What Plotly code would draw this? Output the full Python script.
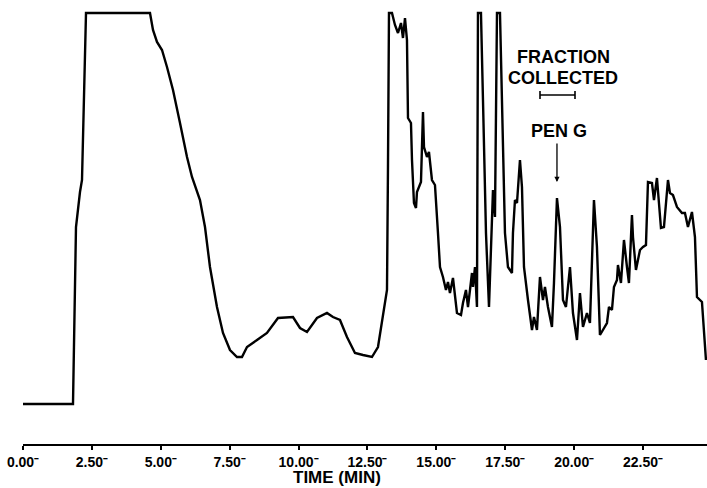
import plotly.graph_objects as go

# Chromatogram trace (time in minutes, detector response in arbitrary units)
time_min = [
    0.000, 1.814, 1.923, 2.032, 2.068, 2.141, 2.286, 4.608, 4.717, 4.862, 5.044, 5.225, 5.443,
    5.697, 5.951, 6.132, 6.422, 6.604, 6.785, 7.039, 7.257, 7.511, 7.765, 7.946, 8.128, 8.491,
    8.853, 9.253, 9.797, 10.051, 10.305, 10.668, 11.030, 11.248, 11.502, 11.756, 12.046, 12.337,
    12.663, 12.881, 13.062, 13.208, 13.244, 13.280, 13.389, 13.498, 13.607, 13.716, 13.788,
    13.861, 13.933, 13.970, 14.078, 14.115, 14.187, 14.260, 14.296, 14.441, 14.514, 14.550,
    14.659, 14.731, 14.840, 14.949, 15.058, 15.131, 15.239, 15.348, 15.421, 15.493, 15.602,
    15.675, 15.747, 15.893, 15.965, 16.074, 16.147, 16.292, 16.328, 16.401, 16.473, 16.509,
    16.618, 16.691, 16.800, 16.909, 17.017, 17.054, 17.126, 17.163, 17.199, 17.308, 17.381,
    17.489, 17.598, 17.743, 17.779, 17.852, 17.925, 18.033, 18.106, 18.179, 18.324, 18.469,
    18.541, 18.650, 18.759, 18.868, 18.940, 19.049, 19.194, 19.267, 19.376, 19.485, 19.594,
    19.702, 19.848, 19.956, 20.102, 20.210, 20.319, 20.464, 20.573, 20.682, 20.718, 20.827,
    20.936, 21.190, 21.263, 21.371, 21.444, 21.553, 21.589, 21.698, 21.807, 21.916, 21.988,
    22.097, 22.134, 22.242, 22.388, 22.497, 22.605, 22.678, 22.823, 22.896, 23.004, 23.149,
    23.258, 23.404, 23.476, 23.585, 23.730, 23.912, 24.020, 24.129, 24.274, 24.383, 24.456,
    24.637, 24.782,
]
signal = [
    0, 0, 177, 209, 212, 224, 391, 391, 374, 362, 354, 337, 314,
    281, 247, 227, 204, 177, 137, 97, 71, 54, 47, 47, 57, 64,
    71, 86, 87, 76, 72, 86, 91, 87, 84, 67, 51, 49,
    47, 57, 87, 114, 237, 391, 391, 379, 371, 381, 366,
    386, 364, 286, 281, 244, 201, 196, 212, 222, 292, 257,
    247, 252, 224, 219, 171, 137, 127, 114, 122, 111, 126,
    111, 91, 89, 101, 114, 97, 131, 117, 137, 97, 391,
    391, 304, 171, 97, 187, 214, 187, 304, 391, 391, 304,
    171, 137, 131, 171, 204, 201, 244, 217, 137, 104, 74,
    87, 74, 127, 104, 117, 97, 77, 121, 206, 177, 104,
    97, 137, 91, 64, 111, 77, 91, 81, 164, 204, 157,
    69, 81, 97, 94, 117, 124, 139, 121, 164, 137, 121,
    189, 167, 134, 154, 157, 159, 222, 221, 204, 226, 176,
    177, 224, 211, 209, 197, 191, 191, 177, 192, 167, 107,
    102, 44,
]

tick_values = [0, 2.5, 5, 7.5, 10, 12.5, 15, 17.5, 20, 22.5]
tick_labels = ["0.00⁻", "2.50⁻", "5.00⁻", "7.50⁻", "10.00⁻", "12.50⁻",
               "15.00⁻", "17.50⁻", "20.00⁻", "22.50⁻"]

# Annotation anchors (time, response)
fraction_start = 18.76
fraction_end = 20.03
pen_g_time = 19.376

FONT = "Liberation Sans, Arial, Helvetica, sans-serif"

fig = go.Figure()
fig.add_trace(go.Scatter(
    x=time_min, y=signal, mode="lines",
    line=dict(color="black", width=2.4),
    hoverinfo="skip", showlegend=False,
))

fig.update_layout(
    width=707, height=488,
    margin=dict(l=23, r=0, t=4, b=44, autoexpand=False),
    paper_bgcolor="white", plot_bgcolor="white",
    font=dict(family=FONT, color="black"),
    xaxis=dict(
        range=[0, 24.82], automargin=False,
        tickmode="array", tickvals=tick_values, ticktext=tick_labels,
        tickfont=dict(family=FONT, size=14, color="black", weight="bold"),
        ticks="outside", ticklen=4, tickwidth=1.5, tickcolor="black",
        showline=True, linecolor="black", linewidth=2,
        showgrid=False, zeroline=False,
    ),
    yaxis=dict(
        range=[-40, 400], visible=False, showgrid=False, zeroline=False, automargin=False,
    ),
)

ann_font = dict(family=FONT, size=18, color="black", weight="bold")
fig.add_annotation(x=19.63, y=347, text="FRACTION", showarrow=False, font=ann_font,
                   xanchor="center", yanchor="middle")
fig.add_annotation(x=19.59, y=326, text="COLLECTED", showarrow=False, font=ann_font,
                   xanchor="center", yanchor="middle")
fig.add_annotation(x=19.45, y=273, text="PEN G", showarrow=False, font=ann_font,
                   xanchor="center", yanchor="middle")
# PEN G arrow
fig.add_annotation(x=pen_g_time, y=222, ax=pen_g_time, ay=262, xref="x", yref="y",
                   axref="x", ayref="y", text="", showarrow=True,
                   arrowhead=2, arrowsize=0.8, arrowwidth=1.3, arrowcolor="black")
# fraction collected bracket
fig.add_shape(type="line", x0=fraction_start, x1=fraction_end, y0=309, y1=309,
              line=dict(color="black", width=1.6))
fig.add_shape(type="line", x0=fraction_start, x1=fraction_start, y0=305, y1=313,
              line=dict(color="black", width=1.6))
fig.add_shape(type="line", x0=fraction_end, x1=fraction_end, y0=305, y1=313,
              line=dict(color="black", width=1.6))

# axis title
fig.add_annotation(x=0.459, y=-0.077, xref="paper", yref="paper", text="TIME (MIN)",
                   showarrow=False, font=dict(family=FONT, size=17, color="black", weight="bold"),
                   xanchor="center", yanchor="middle")

fig.write_html(
    "out.html",
    config={"displayModeBar": False},
    post_script="document.body.style.margin='0';document.body.style.overflow='hidden';",
)
